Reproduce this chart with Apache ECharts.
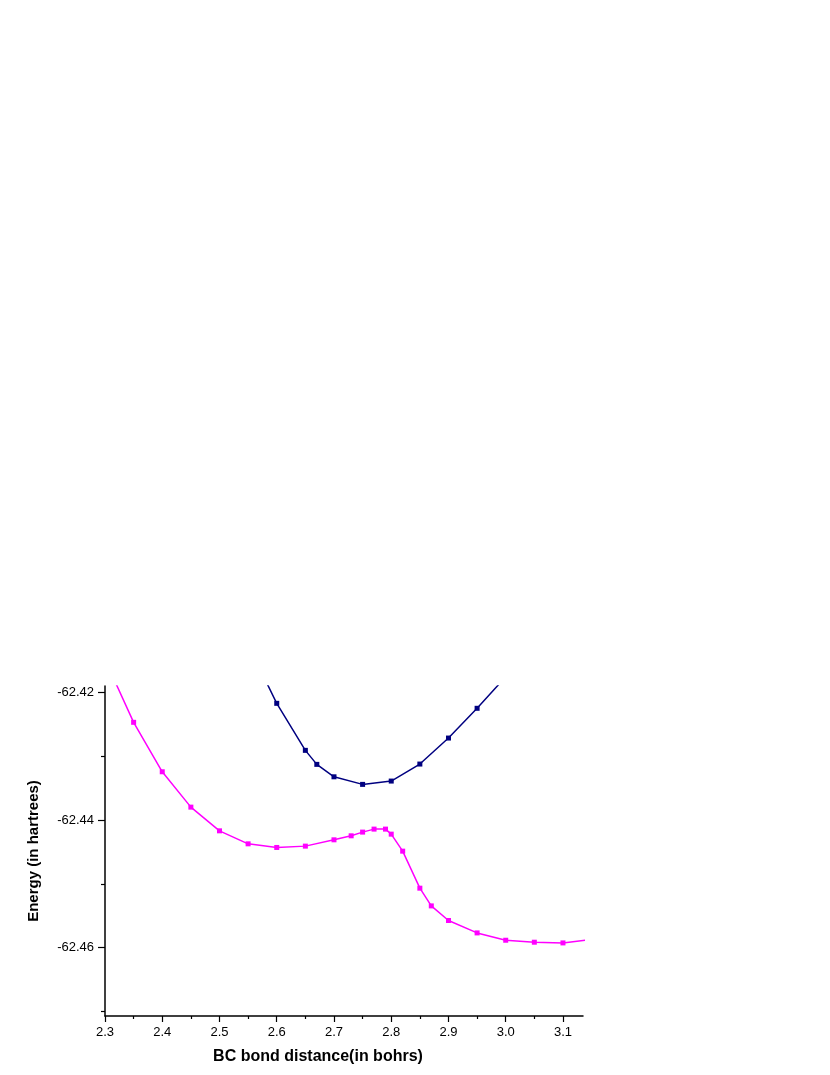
<!DOCTYPE html>
<html>
<head>
<meta charset="utf-8">
<script src="https://cdn.jsdelivr.net/npm/echarts@6/dist/echarts.min.js"></script>
<style>
  html, body { margin: 0; padding: 0; background: #fff; }
  #chart { width: 830px; height: 1075px; }
</style>
</head>
<body>
<div id="chart"></div>
<script>
// bond distance (bohr) and energies (hartree)
var magentaX = [2.30, 2.35, 2.40, 2.45, 2.50, 2.55, 2.60, 2.65, 2.70, 2.73, 2.75, 2.77, 2.79, 2.80, 2.82, 2.85, 2.87, 2.90, 2.95, 3.00, 3.05, 3.10, 3.15];
var magentaY = [-62.4148, -62.42465, -62.43241, -62.43796, -62.44168, -62.44372, -62.44429, -62.44408, -62.44309, -62.44246, -62.44188, -62.44141, -62.44141, -62.44220, -62.44487, -62.45068, -62.45346, -62.45575, -62.45770, -62.45885, -62.45916, -62.45927, -62.45874];
var navyX = [2.55, 2.60, 2.65, 2.67, 2.70, 2.75, 2.80, 2.85, 2.90, 2.95, 3.00];
var navyY = [-62.4125, -62.42167, -62.42905, -62.43125, -62.43320, -62.43439, -62.43387, -62.43120, -62.42712, -62.42245, -62.4175];

var xMajor = [2.3, 2.4, 2.5, 2.6, 2.7, 2.8, 2.9, 3.0, 3.1];
var xMinor = [2.35, 2.45, 2.55, 2.65, 2.75, 2.85, 2.95, 3.05];
var yMajor = [-62.46, -62.44, -62.42];
var yMinor = [-62.47, -62.45, -62.43];

var X_MIN = 2.3, X_MAX = 3.135;
var Y_MIN = -62.47074, Y_MAX = -62.41895;

function pairs(xs, ys) {
    return xs.map(function (x, i) { return [x, ys[i]]; });
}

var font = 'Liberation Sans, Arial, sans-serif';
var axisLine = { show: true, lineStyle: { color: '#000', width: 1.5 } };

var myChart = echarts.init(document.getElementById('chart'));
var option = {
    backgroundColor: '#fff',
    animation: false,
    grid: { left: 105, top: 686, right: 247, bottom: 59, containLabel: false },
    xAxis: [
        {
            type: 'value', min: X_MIN, max: X_MAX, position: 'bottom',
            name: 'BC bond distance(in bohrs)', nameLocation: 'middle', nameGap: 33,
            nameTextStyle: { fontFamily: font, fontSize: 16, fontWeight: 'bold', color: '#000', padding: [0, 52, 0, 0] },
            axisLine: axisLine,
            axisTick: { show: true, length: 6, customValues: xMajor, lineStyle: { color: '#000', width: 1.2 } },
            axisLabel: { customValues: xMajor, fontFamily: font, fontSize: 13, color: '#000', margin: 10,
                formatter: function (v) { return v.toFixed(1); } },
            splitLine: { show: false }
        },
        {
            type: 'value', min: X_MIN, max: X_MAX, position: 'bottom',
            axisLine: { show: false },
            axisTick: { show: true, length: 3, customValues: xMinor, lineStyle: { color: '#000', width: 1.2 } },
            axisLabel: { show: false },
            splitLine: { show: false }
        }
    ],
    yAxis: [
        {
            type: 'value', min: Y_MIN, max: Y_MAX, position: 'left',
            name: 'Energy (in hartrees)', nameLocation: 'middle', nameGap: 64, nameRotate: 90,
            nameTextStyle: { fontFamily: font, fontSize: 15, fontWeight: 'bold', color: '#000' },
            axisLine: axisLine,
            axisTick: { show: true, length: 7, customValues: yMajor, lineStyle: { color: '#000', width: 1.2 } },
            axisLabel: { customValues: yMajor, fontFamily: font, fontSize: 13, color: '#000', margin: 11,
                formatter: function (v) { return v.toFixed(2); } },
            splitLine: { show: false }
        },
        {
            type: 'value', min: Y_MIN, max: Y_MAX, position: 'left',
            axisLine: { show: false },
            axisTick: { show: true, length: 4, customValues: yMinor, lineStyle: { color: '#000', width: 1.2 } },
            axisLabel: { show: false },
            splitLine: { show: false }
        }
    ],
    series: [
        {
            type: 'line', xAxisIndex: 0, yAxisIndex: 0,
            data: pairs(navyX, navyY),
            symbol: 'rect', symbolSize: 5,
            lineStyle: { color: '#000080', width: 1.5 },
            itemStyle: { color: '#000080' },
            clip: true
        },
        {
            type: 'line', xAxisIndex: 0, yAxisIndex: 0,
            data: pairs(magentaX, magentaY),
            symbol: 'rect', symbolSize: 5,
            lineStyle: { color: '#ff00ff', width: 1.5 },
            itemStyle: { color: '#ff00ff' },
            clip: true
        }
    ]
};
myChart.setOption(option);
</script>
</body>
</html>
